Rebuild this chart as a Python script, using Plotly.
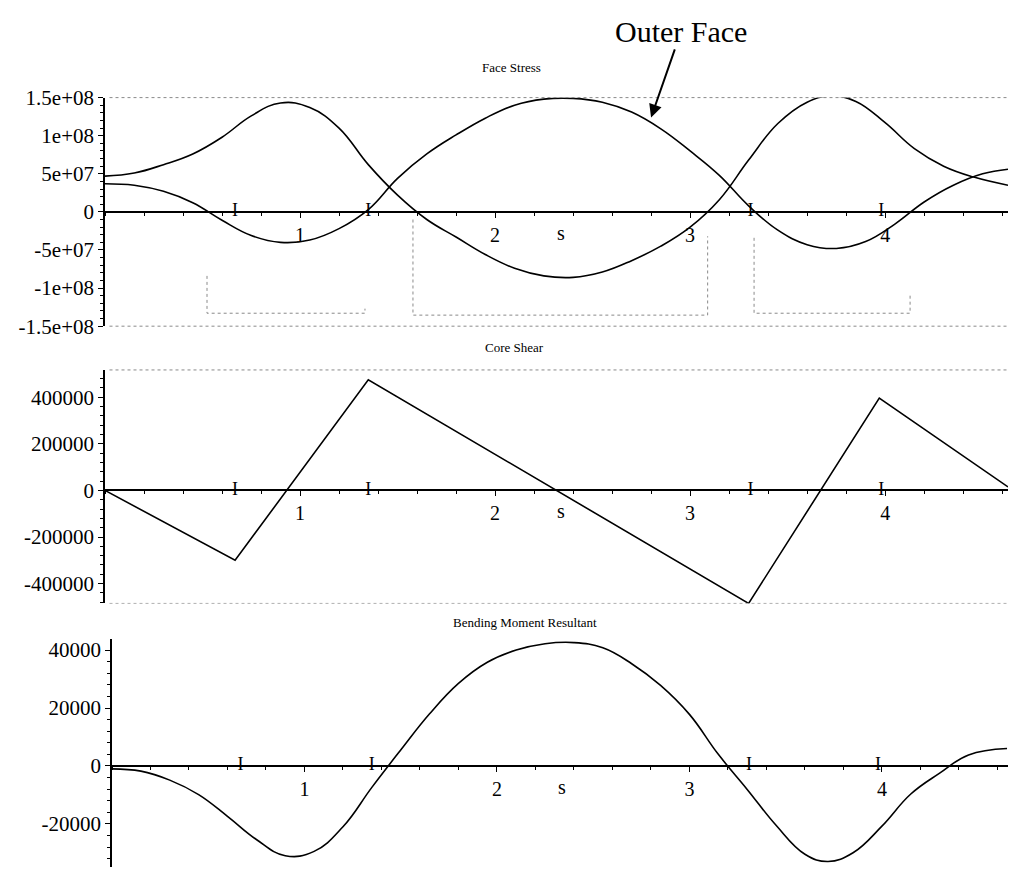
import plotly.graph_objects as go

# ---------------- data ----------------
# Face stress (subplot 1)
inner_x = [0, 0.15, 0.3, 0.45, 0.6, 0.75, 0.9, 1.05, 1.2, 1.35, 1.5, 1.65, 1.8, 1.95, 2.1,
           2.25, 2.4, 2.55, 2.7, 2.85, 3.0, 3.15, 3.3, 3.45, 3.6, 3.72, 3.85, 4.0, 4.15, 4.3,
           4.45, 4.63]
inner_face = [4.7e7, 5.1e7, 6.2e7, 7.6e7, 9.8e7, 1.26e8, 1.43e8, 1.37e8, 1.10e8, 6.2e7, 2.2e7,
              -1.0e7, -3.3e7, -5.6e7, -7.4e7, -8.4e7, -8.6e7, -7.9e7, -6.4e7, -4.5e7, -2.0e7,
              1.6e7, 6.8e7, 1.16e8, 1.44e8, 1.52e8, 1.45e8, 1.17e8, 8.3e7, 6.0e7, 4.6e7, 3.5e7]

outer_x = [0, 0.15, 0.3, 0.45, 0.6, 0.75, 0.9, 1.05, 1.2, 1.35, 1.5, 1.65, 1.8, 1.95, 2.1,
           2.25, 2.4, 2.55, 2.7, 2.85, 3.0, 3.15, 3.3, 3.45, 3.6, 3.75, 3.9, 4.05, 4.2, 4.35,
           4.5, 4.63]
outer_face = [3.7e7, 3.5e7, 2.7e7, 1.2e7, -1.1e7, -3.1e7, -4.0e7, -3.7e7, -2.2e7, 3e6, 4.4e7,
              7.6e7, 1.01e8, 1.23e8, 1.40e8, 1.48e8, 1.49e8, 1.44e8, 1.31e8, 1.09e8, 8.0e7,
              4.8e7, 8e6, -2.4e7, -4.3e7, -4.8e7, -3.9e7, -1.6e7, 1.3e7, 3.5e7, 5.0e7, 5.6e7]

# Core shear (subplot 2)
shear_x = [0, 0.667, 1.35, 3.30, 3.97, 4.63]
core_shear = [0, -3.0e5, 4.75e5, -4.85e5, 3.96e5, 1.5e4]

# Bending moment resultant (subplot 3)
moment_x = [0, 0.15, 0.3, 0.45, 0.6, 0.75, 0.9, 1.05, 1.2, 1.35, 1.5, 1.65, 1.8, 1.95, 2.1,
            2.25, 2.4, 2.55, 2.7, 2.85, 3.0, 3.15, 3.3, 3.45, 3.6, 3.72, 3.85, 4.0, 4.15, 4.3,
            4.45, 4.65]
bending_moment = [-1000, -1800, -4900, -9900, -17400, -25400, -31000, -29500, -21000, -7400,
                  5500, 18000, 28500, 35800, 40000, 42200, 42600, 40800, 35300, 27800, 17800,
                  4000, -8100, -20500, -30500, -33000, -30000, -20800, -9700, -2500, 3800, 6000]

# support marks ("I") on the s-axis
support_x = [0.667, 1.35, 3.31, 3.98]

# dotted brackets below the face-stress curves
bracket_left = [0.523, 1.579, 3.328]
bracket_right = [1.333, 3.09, 4.128]
bracket_left_top = [-8.4e7, -1.0e7, -3.4e7]
bracket_right_top = [-1.27e8, -3.2e7, -1.08e8]
bracket_bottom = [-1.33e8, -1.355e8, -1.33e8]

# tick labels
x_ticks = [1, 2, 3, 4]
x_labels = ["1", "2", "3", "4"]
y1_ticks = [1.5e8, 1e8, 5e7, 0, -5e7, -1e8, -1.5e8]
y1_labels = ["1.5e+08", "1e+08", "5e+07", "0", "-5e+07", "-1e+08", "-1.5e+08"]
y2_ticks = [400000, 200000, 0, -200000, -400000]
y2_labels = ["400000", "200000", "0", "-200000", "-400000"]
y3_ticks = [40000, 20000, 0, -20000]
y3_labels = ["40000", "20000", "0", "-20000"]

titles = ["Face Stress", "Core Shear", "Bending Moment Resultant"]

# ---------------- figure ----------------
SERIF = "Liberation Serif"
W, H = 1011, 879
L, R = 105, 3

fig = go.Figure()
line = dict(color="black", width=1.6)
sline = dict(color="black", width=1.6, shape="spline", smoothing=1.2)

fig.add_trace(go.Scatter(x=inner_x, y=inner_face, mode="lines", line=sline,
                         xaxis="x", yaxis="y", name="Inner Face"))
fig.add_trace(go.Scatter(x=outer_x, y=outer_face, mode="lines", line=sline,
                         xaxis="x", yaxis="y", name="Outer Face"))
fig.add_trace(go.Scatter(x=shear_x, y=core_shear, mode="lines", line=line,
                         xaxis="x2", yaxis="y2", name="Core Shear"))
fig.add_trace(go.Scatter(x=moment_x, y=bending_moment, mode="lines", line=sline,
                         xaxis="x3", yaxis="y3", name="Bending Moment"))

# dotted brackets
bx, by = [], []
for xl, xr, ylt, yrt, yb in zip(bracket_left, bracket_right, bracket_left_top, bracket_right_top, bracket_bottom):
    bx += [xl, xl, xr, xr, None]
    by += [ylt, yb, yb, yrt, None]
fig.add_trace(go.Scatter(x=bx, y=by, mode="lines", line=dict(color="#8a8a8a", width=1, dash="dot"),
                         xaxis="x", yaxis="y", hoverinfo="skip"))

# support marks
for xa, ya in [("x", "y"), ("x2", "y2"), ("x3", "y3")]:
    fig.add_trace(go.Scatter(x=support_x, y=[0] * len(support_x), mode="text", text=["I"] * len(support_x),
                             textposition="middle center",
                             textfont=dict(family=SERIF, size=18, color="black"),
                             xaxis=xa, yaxis=ya, hoverinfo="skip"))

# domains (pixel based)
def ydom(top_px, bot_px):
    return [1 - bot_px / H, 1 - top_px / H]

y1_dom = ydom(88, 323)
y2_dom = ydom(368, 608)
y3_dom = ydom(645, 879)
y1_rng = [-1.5e8, 1.5e8]
y2_rng = [-4.85e5, 5.17e5]
y3_rng = [-34900, 43700]
x_rng = [0, 4.63]
x3_rng = [0, 4.655]
pw = W - L - R
x3_dom = [(112 - L) / pw, 1.0]


def zero_pos(dom, rng):
    return dom[0] + (0 - rng[0]) / (rng[1] - rng[0]) * (dom[1] - dom[0])


tick_font = dict(family=SERIF, size=21, color="black")
xtick_font = dict(family=SERIF, size=20, color="black")


def xaxis_cfg(dom, rng, pos):
    return dict(domain=dom, range=rng, anchor="free", position=pos, showline=True,
                linecolor="black", linewidth=2, ticks="outside", ticklen=5, tickwidth=1.2,
                tickcolor="black", tickmode="array", tickvals=x_ticks, ticktext=x_labels,
                tickfont=xtick_font, showgrid=False, zeroline=False,
                minor=dict(tickmode="linear", tick0=0, dtick=0.2, ticklen=3, ticks="outside",
                           tickcolor="black", showgrid=False))


def yaxis_cfg(dom, rng, vals, labels, anchor, mdt):
    return dict(domain=dom, range=rng, anchor=anchor, showline=True, linecolor="black",
                linewidth=1.6, ticks="outside", ticklen=5, tickwidth=1.2, tickcolor="black",
                tickmode="array", tickvals=vals, ticktext=labels, tickfont=tick_font,
                showgrid=False, zeroline=False,
                minor=dict(tickmode="linear", tick0=0, dtick=mdt, ticklen=3, ticks="outside",
                           tickcolor="black", showgrid=False))


fig.update_layout(
    width=W, height=H,
    margin=dict(l=L, r=R, t=0, b=0),
    paper_bgcolor="white", plot_bgcolor="white",
    showlegend=False,
    xaxis=xaxis_cfg([0, 1], x_rng, zero_pos(y1_dom, y1_rng)),
    xaxis2=xaxis_cfg([0, 1], x_rng, zero_pos(y2_dom, y2_rng)),
    xaxis3=xaxis_cfg(x3_dom, x3_rng, zero_pos(y3_dom, y3_rng)),
    yaxis=yaxis_cfg(y1_dom, y1_rng, y1_ticks, y1_labels, "x", 1e7),
    yaxis2=yaxis_cfg(y2_dom, y2_rng, y2_ticks, y2_labels, "x2", 40000),
    yaxis3=yaxis_cfg(y3_dom, y3_rng, y3_ticks, y3_labels, "x3", 4000),
)

# dotted frame lines
for yref, yv, col in [("y domain", 1, "#8a8a8a"), ("y domain", 0, "#8a8a8a"),
                      ("y2 domain", 1, "#8a8a8a"), ("y2 domain", 0, "#b0b0b0")]:
    xr = "x domain" if yref.startswith("y ") else "x2 domain"
    fig.add_shape(type="line", xref=xr, yref=yref, x0=0.005, x1=1, y0=yv, y1=yv,
                  line=dict(color=col, width=1, dash="dot"))

# titles
title_pos = [(511, 57), (514, 345), (525, 628)]
for t, (px, py) in zip(titles, title_pos):
    fig.add_annotation(text=t, xref="paper", yref="paper", x=(px - L) / pw, y=1 - py / H,
                       showarrow=False, xanchor="center", yanchor="middle",
                       font=dict(family=SERIF, size=13, color="black"))

# axis label "s"
for xa, ya in [("x", "y"), ("x2", "y2"), ("x3", "y3")]:
    fig.add_annotation(text="s", xref=xa, yref=ya, x=2.34, y=0, yshift=-21, showarrow=False,
                       font=dict(family=SERIF, size=20, color="black"))

# Outer Face callout
fig.add_annotation(text="Outer Face", xref="x", yref="y", x=2.8, y=1.24e8, ax=30, ay=-86,
                   showarrow=True, arrowhead=2, arrowsize=1.3, arrowwidth=2, arrowcolor="black",
                   font=dict(family=SERIF, size=30, color="black"))

fig.write_html("out.html")
